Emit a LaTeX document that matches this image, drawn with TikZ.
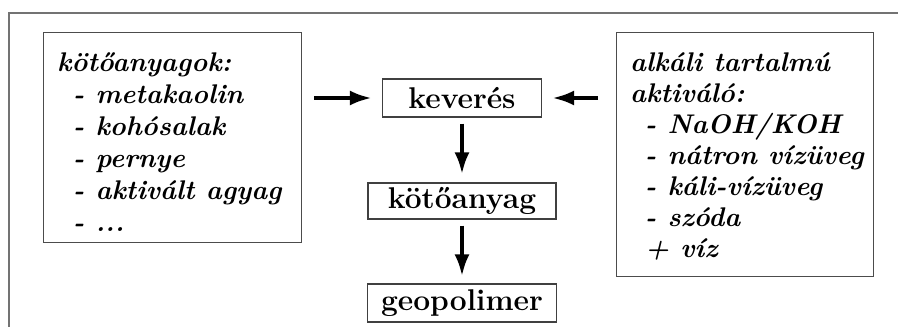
\documentclass[tikz,border=0pt]{standalone}
\usepackage{fontspec}
\usetikzlibrary{arrows.meta,calc}
\begin{document}
\begin{tikzpicture}[x=1pt,y=-1pt,
  framebox/.style={draw=black!70,line width=1.3pt,inner sep=0pt},
  mainbox/.style={draw=black!75,line width=1.3pt,inner sep=0pt,font=\fontsize{30}{32}\selectfont\bfseries},
  listtext/.style={anchor=north west,inner sep=0pt,align=left,font=\fontsize{27}{32}\selectfont\bfseries\itshape},
  arr/.style={line width=4pt,-{Latex[length=22pt,width=15pt]}}]
\useasboundingbox (0,0) rectangle (898,327);
% outer frame (cropped)
\draw[black!55,line width=1.5pt] (9,330) -- (9,13) -- (900,13);
% left box
\node[framebox,anchor=north west,minimum width=258pt,minimum height=210pt] (leftbox) at (43,32) {};
\node[listtext] (lefttext) at (57,52) {kötőanyagok:\\
\hspace*{16pt}- metakaolin\\
\hspace*{16pt}- kohósalak\\
\hspace*{16pt}- pernye\\
\hspace*{16pt}- aktivált agyag\\
\hspace*{16pt}- ...};
% right box
\node[framebox,anchor=north west,minimum width=257pt,minimum height=244pt] (rightbox) at (616,32) {};
\node[listtext,font=\fontsize{27}{31}\selectfont\bfseries\itshape] (righttext) at (630,52) {alkáli tartalmú\\
aktiváló:\\
\hspace*{15pt}- NaOH/KOH\\
\hspace*{15pt}- nátron vízüveg\\
\hspace*{15pt}- káli-vízüveg\\
\hspace*{15pt}- szóda\\
\hspace*{15pt}+ víz};
% centre boxes
\node[mainbox,minimum width=159pt,minimum height=38pt] (kev) at (462,98) {keverés};
\node[mainbox,minimum width=188pt,minimum height=36pt] (kot) at (462,201) {kötőanyag};
\node[mainbox,minimum width=189pt,minimum height=38pt] (geo) at (462,303) {geopolimer};
% arrows
\draw[arr,shorten <=12pt,shorten >=10pt] (leftbox.east |- kev.west) -- (kev.west);
\draw[arr,shorten <=18pt,shorten >=10pt] (rightbox.west |- kev.east) -- (kev.east);
\draw[arr,shorten <=6pt,shorten >=8pt] (kev.south) -- (kot.north);
\draw[arr,shorten <=6pt,shorten >=7pt] (kot.south) -- (geo.north);
\end{tikzpicture}
\end{document}
